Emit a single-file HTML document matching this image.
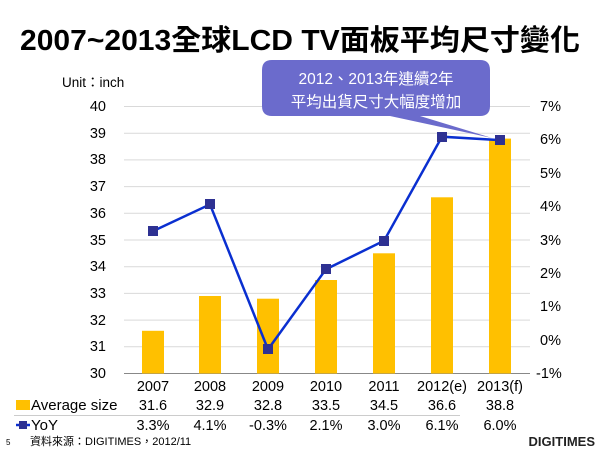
<!DOCTYPE html>
<html><head><meta charset="utf-8"><style>
body{margin:0;background:#fff;}
svg text{font-family:"Liberation Sans","Noto Sans CJK TC",sans-serif;}
</style></head><body>
<svg width="600" height="450" xmlns="http://www.w3.org/2000/svg">
<text x="20" y="50" font-size="29" font-weight="bold" fill="#000" textLength="560" lengthAdjust="spacingAndGlyphs">2007~2013全球LCD TV面板平均尺寸變化</text>
<text x="62" y="87" font-size="13.5" fill="#000">Unit：inch</text>
<g stroke="#d9d9d9" stroke-width="1">
<line x1="124" x2="530" y1="106.5" y2="106.5"/><line x1="124" x2="530" y1="133.2" y2="133.2"/>
<line x1="124" x2="530" y1="159.9" y2="159.9"/><line x1="124" x2="530" y1="186.6" y2="186.6"/>
<line x1="124" x2="530" y1="213.3" y2="213.3"/><line x1="124" x2="530" y1="240" y2="240"/>
<line x1="124" x2="530" y1="266.7" y2="266.7"/><line x1="124" x2="530" y1="293.4" y2="293.4"/>
<line x1="124" x2="530" y1="320.1" y2="320.1"/><line x1="124" x2="530" y1="346.8" y2="346.8"/>
</g>
<line x1="124" x2="530" y1="373.5" y2="373.5" stroke="#888"/>
<g font-size="14.5" text-anchor="end" fill="#000">
<text x="106" y="111">40</text><text x="106" y="138">39</text><text x="106" y="164">38</text><text x="106" y="191">37</text><text x="106" y="218">36</text><text x="106" y="245">35</text><text x="106" y="271">34</text><text x="106" y="298">33</text><text x="106" y="325">32</text><text x="106" y="351">31</text><text x="106" y="378">30</text>
</g>
<g font-size="14.5" fill="#000">
<text x="540" y="111">7%</text><text x="540" y="144">6%</text><text x="540" y="178">5%</text><text x="540" y="211">4%</text><text x="540" y="245">3%</text><text x="540" y="278">2%</text><text x="540" y="311">1%</text><text x="540" y="345">0%</text><text x="536" y="378">-1%</text>
</g>
<g fill="#ffc000">
<rect x="142" y="330.8" width="22" height="42.7"/>
<rect x="199" y="296" width="22" height="77.5"/>
<rect x="257" y="298.7" width="22" height="74.8"/>
<rect x="315" y="280" width="22" height="93.5"/>
<rect x="373" y="253.3" width="22" height="120.2"/>
<rect x="431" y="197.3" width="22" height="176.2"/>
<rect x="489" y="138.6" width="22" height="234.9"/>
</g>
<polyline fill="none" stroke="#0a2fd0" stroke-width="2.5" points="153,231.1 210,204.4 268,349.4 326,269.2 384,240.8 442,136.7 500,140.1"/>
<g fill="#2e3192">
<rect x="148" y="226" width="10" height="10"/><rect x="205" y="199" width="10" height="10"/><rect x="263" y="344" width="10" height="10"/><rect x="321" y="264" width="10" height="10"/><rect x="379" y="236" width="10" height="10"/><rect x="437" y="132" width="10" height="10"/><rect x="495" y="135" width="10" height="10"/>
</g>
<path d="M272,60 H480 Q490,60 490,70 V106 Q490,116 480,116 H420 L492,138 L390,116 H272 Q262,116 262,106 V70 Q262,60 272,60 Z" fill="#6b6bcc"/>
<text x="376" y="84" text-anchor="middle" font-size="15.5" fill="#fff">2012、2013年連續2年</text>
<text x="376" y="107" text-anchor="middle" font-size="15.5" fill="#fff">平均出貨尺寸大幅度增加</text>
<g font-size="14.5" text-anchor="middle" fill="#000">
<text x="153" y="391">2007</text><text x="210" y="391">2008</text><text x="268" y="391">2009</text><text x="326" y="391">2010</text><text x="384" y="391">2011</text><text x="442" y="391">2012(e)</text><text x="500" y="391">2013(f)</text>
<text x="153" y="410">31.6</text><text x="210" y="410">32.9</text><text x="268" y="410">32.8</text><text x="326" y="410">33.5</text><text x="384" y="410">34.5</text><text x="442" y="410">36.6</text><text x="500" y="410">38.8</text>
<text x="153" y="430">3.3%</text><text x="210" y="430">4.1%</text><text x="268" y="430">-0.3%</text><text x="326" y="430">2.1%</text><text x="384" y="430">3.0%</text><text x="442" y="430">6.1%</text><text x="500" y="430">6.0%</text>
</g>
<line x1="14" x2="460" y1="415.5" y2="415.5" stroke="#ccc"/>
<rect x="16" y="400" width="14" height="10" fill="#ffc000"/>
<text x="31" y="410" font-size="15">Average size</text>
<line x1="16" x2="30" y1="425" y2="425" stroke="#0a2fd0" stroke-width="2.5"/>
<rect x="19" y="421" width="8" height="8" fill="#2e3192"/>
<text x="31" y="430" font-size="15">YoY</text>
<text x="6" y="445" font-size="8">5</text>
<text x="30" y="445" font-size="11">資料來源：DIGITIMES，2012/11</text>
<text x="595" y="446" text-anchor="end" font-size="13" font-weight="bold" fill="#222">DIGITIMES</text>
</svg>
</body></html>
